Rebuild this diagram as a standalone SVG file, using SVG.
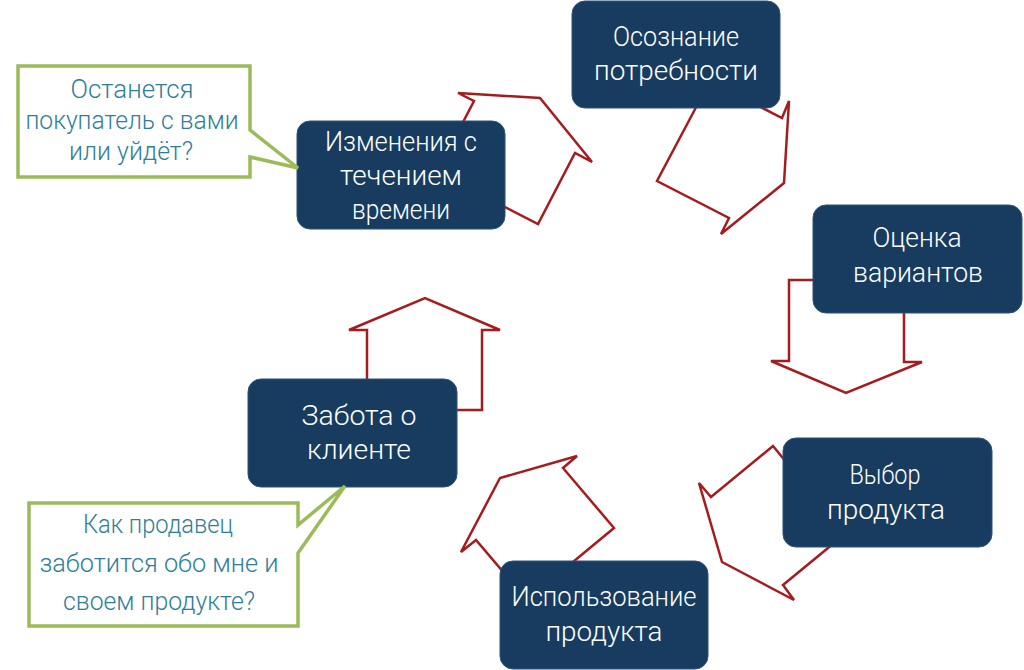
<svg xmlns="http://www.w3.org/2000/svg" width="1024" height="670" viewBox="0 0 1024 670">
<style>
.box{fill:#173C60;stroke:#2C5378;stroke-width:1}
.arr{fill:#FFFFFF;stroke:#A51C1F;stroke-width:2.5;stroke-linejoin:miter}
.bt{fill:#FFFFFF;font-family:Roboto,"DejaVu Sans",sans-serif;font-weight:300;font-size:28px;text-anchor:middle}
.call{fill:#FFFFFF;stroke:#9BBB59;stroke-width:3.5;stroke-linejoin:miter}
.ct{fill:#2E7E9A;font-family:Roboto,"DejaVu Sans",sans-serif;font-weight:300;font-size:25px;text-anchor:middle}
</style>
<rect width="1024" height="670" fill="#FFFFFF"/>
<g id="connectors">
<polygon class="arr" points="437,172 474,101 458,93 540,98 592,162 575,153 538,224"/>
<polygon class="arr" points="710,81 657,181 729,218 721,234 784,183 789,101 782,118"/>
<polygon class="arr" points="789,280 789,361 771,361 846,393 922,362 904,362 904,280"/>
<polygon class="arr" points="773,446 711,497 699,483 722,562 794,600 783,585 845,534"/>
<polygon class="arr" points="614,528 563,468 577,456 500,478 461,552 476,540 527,600"/>
<polygon class="arr" points="367,410 367,330 349,330 425,298 500,330 482,330 482,410"/>
</g>
<g id="node-awareness">
<rect class="box" x="572" y="1" width="208" height="107" rx="13"/>
<text class="bt" x="676" y="46" textLength="126" lengthAdjust="spacingAndGlyphs">Осознание</text>
<text class="bt" x="676" y="80" textLength="164" lengthAdjust="spacingAndGlyphs">потребности</text>
</g>
<g id="node-evaluation">
<rect class="box" x="813" y="205" width="209" height="108" rx="13"/>
<text class="bt" x="917" y="247" textLength="89" lengthAdjust="spacingAndGlyphs">Оценка</text>
<text class="bt" x="918" y="282" textLength="130" lengthAdjust="spacingAndGlyphs">вариантов</text>
</g>
<g id="node-choice">
<rect class="box" x="783" y="438" width="209" height="109" rx="13"/>
<text class="bt" x="885" y="484" textLength="71" lengthAdjust="spacingAndGlyphs">Выбор</text>
<text class="bt" x="886" y="519" textLength="118" lengthAdjust="spacingAndGlyphs">продукта</text>
</g>
<g id="node-usage">
<rect class="box" x="500" y="561" width="208" height="108" rx="13"/>
<text class="bt" x="604" y="606" textLength="185" lengthAdjust="spacingAndGlyphs">Использование</text>
<text class="bt" x="604" y="641" textLength="117" lengthAdjust="spacingAndGlyphs">продукта</text>
</g>
<g id="node-care">
<rect class="box" x="248" y="379" width="209" height="108" rx="13"/>
<text class="bt" x="359" y="425" textLength="115" lengthAdjust="spacingAndGlyphs">Забота о</text>
<text class="bt" x="359" y="459" textLength="104" lengthAdjust="spacingAndGlyphs">клиенте</text>
</g>
<g id="node-change">
<rect class="box" x="297" y="121" width="208" height="108" rx="13"/>
<text class="bt" x="401" y="151" textLength="152" lengthAdjust="spacingAndGlyphs">Изменения с</text>
<text class="bt" x="401" y="185" textLength="122" lengthAdjust="spacingAndGlyphs">течением</text>
<text class="bt" x="401" y="219" textLength="98" lengthAdjust="spacingAndGlyphs">времени</text>
</g>
<g id="callout-stay">
<path class="call" d="M18,66 H250 V130 L298,168 L250,157 V177 H18 Z"/>
<text class="ct" x="132" y="98" textLength="123" lengthAdjust="spacingAndGlyphs">Останется</text>
<text class="ct" x="132" y="129" textLength="213" lengthAdjust="spacingAndGlyphs">покупатель с вами</text>
<text class="ct" x="131" y="160" textLength="124" lengthAdjust="spacingAndGlyphs">или уйдёт?</text>
</g>
<g id="callout-care">
<path class="call" d="M29,503 H298 V525 L345,486 L298,553 V626 H29 Z"/>
<text class="ct" x="158" y="533" textLength="150" lengthAdjust="spacingAndGlyphs">Как продавец</text>
<text class="ct" x="159" y="572" textLength="239" lengthAdjust="spacingAndGlyphs">заботится обо мне и</text>
<text class="ct" x="159" y="610" textLength="192" lengthAdjust="spacingAndGlyphs">своем продукте?</text>
</g>
</svg>
